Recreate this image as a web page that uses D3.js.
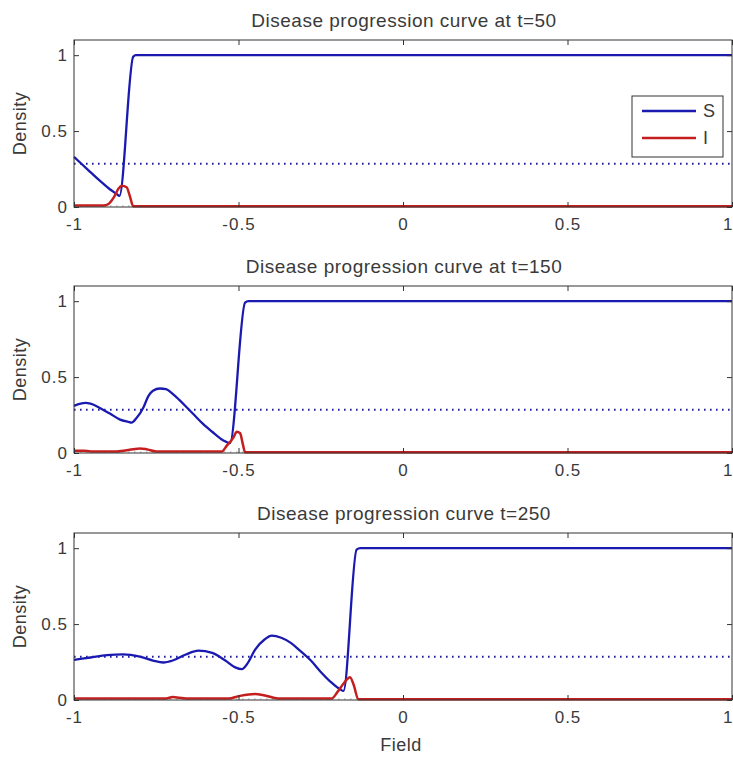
<!DOCTYPE html>
<html>
<head>
<meta charset="utf-8">
<script src="https://cdn.jsdelivr.net/npm/d3@7"></script>
<style>
  body { margin: 0; background: #fff; }
  text { font-family: "Liberation Sans", Arial, sans-serif; fill: #3a3a3a; }
  .tick text { font-size: 17px; letter-spacing: 1px; }
  .tick line { stroke: #333; }
</style>
</head>
<body>
<div id="chart"></div>
<script>
// chart values
var titles = ["Disease progression curve at t=50",
              "Disease progression curve at t=150",
              "Disease progression curve t=250"];
var xTicks = [-1, -0.5, 0, 0.5, 1];
var yTicks = [0, 0.5, 1];
var seriesNames = ["S", "I"];
var threshold = 0.285;

// t=50
var sField50 = [-1, -0.96, -0.92, -0.89, -0.87, -0.862, -0.82, -0.812, 1];
var sDens50  = [0.33, 0.25, 0.17, 0.115, 0.085, 0.073, 0.99, 1.0, 1.0];
var iField50 = [-1, -0.91, -0.895, -0.88, -0.865, -0.855, -0.84, -0.83, -0.82, 1];
var iDens50  = [0.01, 0.01, 0.02, 0.06, 0.12, 0.14, 0.13, 0.07, 0.005, 0.005];

// t=150
var sField150 = [-1, -0.98, -0.965, -0.95, -0.92, -0.891, -0.86, -0.835, -0.825, -0.81, -0.789, -0.774, -0.76, -0.739, -0.72, -0.70, -0.68, -0.657, -0.63, -0.607, -0.58, -0.546, -0.526, -0.48, -0.47, 1];
var sDens150  = [0.31, 0.325, 0.33, 0.325, 0.295, 0.26, 0.22, 0.205, 0.2, 0.23, 0.3, 0.375, 0.41, 0.425, 0.42, 0.39, 0.35, 0.3, 0.24, 0.19, 0.14, 0.083, 0.065, 0.99, 1.0, 1.0];
var iField150 = [-1, -0.97, -0.95, -0.87, -0.85, -0.82, -0.80, -0.78, -0.75, -0.551, -0.535, -0.516, -0.505, -0.495, -0.487, -0.48, 1];
var iDens150  = [0.015, 0.015, 0.01, 0.01, 0.015, 0.025, 0.03, 0.025, 0.01, 0.01, 0.05, 0.1, 0.14, 0.13, 0.06, 0.005, 0.005];

// t=250
var sField250 = [-1, -0.95, -0.90, -0.85, -0.80, -0.76, -0.729, -0.70, -0.66, -0.622, -0.58, -0.54, -0.51, -0.49, -0.47, -0.45, -0.42, -0.399, -0.37, -0.34, -0.313, -0.28, -0.252, -0.22, -0.191, -0.181, -0.141, -0.13, 1];
var sDens250  = [0.265, 0.28, 0.295, 0.3, 0.285, 0.26, 0.247, 0.26, 0.3, 0.325, 0.31, 0.26, 0.215, 0.203, 0.25, 0.33, 0.4, 0.424, 0.41, 0.375, 0.325, 0.26, 0.19, 0.12, 0.07, 0.06, 0.99, 1.0, 1.0];
var iField250 = [-1, -0.72, -0.70, -0.68, -0.66, -0.53, -0.50, -0.45, -0.42, -0.38, -0.217, -0.20, -0.18, -0.161, -0.15, -0.136, 1];
var iDens250  = [0.01, 0.01, 0.02, 0.015, 0.01, 0.01, 0.025, 0.04, 0.03, 0.01, 0.01, 0.05, 0.11, 0.15, 0.1, 0.005, 0.005];

var sFields = [sField50, sField150, sField250],
    sDens   = [sDens50, sDens150, sDens250],
    iFields = [iField50, iField150, iField250],
    iDens   = [iDens50, iDens150, iDens250];

// layout
var width = 733, height = 758;
var left = 74, right = 732;
var panelTops = [40, 286, 533], panelH = 167;
var colors = { S: "#1a1ab0", I: "#c41e1e" };

var svg = d3.select("#chart").append("svg")
    .attr("width", width)
    .attr("height", height);

var x = d3.scaleLinear().domain([-1, 1]).range([left, right]);

var fmt = function(d) { return String(d); };

titles.forEach(function(title, k) {
  var top = panelTops[k], bottom = top + panelH;
  var y = d3.scaleLinear().domain([0, 1.1]).range([bottom, top]);
  var g = svg.append("g");

  // title
  g.append("text")
      .attr("x", (left + right) / 2 + 1)
      .attr("y", top - 13)
      .attr("text-anchor", "middle")
      .style("font-size", "19px")
      .style("letter-spacing", "0.5px")
      .text(title);

  // reference dotted lines
  g.append("line")
      .attr("x1", x(-1)).attr("x2", x(1))
      .attr("y1", y(threshold)).attr("y2", y(threshold))
      .attr("stroke", "#1c1c9c").attr("stroke-width", 1.8)
      .attr("stroke-dasharray", "1.6,4.4");
  g.append("line")
      .attr("x1", x(-1)).attr("x2", x(1))
      .attr("y1", y(0) - 1).attr("y2", y(0) - 1)
      .attr("stroke", "#888").attr("stroke-width", 0.8)
      .attr("stroke-dasharray", "1.5,4.5");

  var line = d3.line()
      .x(function(d) { return x(d[0]); })
      .y(function(d) { return y(d[1]); })
      .curve(d3.curveMonotoneX);

  var sData = d3.zip(sFields[k], sDens[k]);
  var iData = d3.zip(iFields[k], iDens[k]);

  g.append("path")
      .datum(sData)
      .attr("fill", "none")
      .attr("stroke", colors.S)
      .attr("stroke-width", 2.3)
      .attr("stroke-linejoin", "round")
      .attr("d", line);

  g.append("path")
      .datum(iData)
      .attr("fill", "none")
      .attr("stroke", colors.I)
      .attr("stroke-width", 2.5)
      .attr("stroke-linejoin", "round")
      .attr("d", line);

  // axes, MATLAB style ticks inside the box
  g.append("g")
      .attr("transform", "translate(0," + bottom + ")")
      .call(d3.axisBottom(x).tickValues(xTicks).tickSize(-5).tickPadding(11).tickFormat(fmt))
      .call(function(a) {
        a.select(".domain").remove();
        // keep the last label inside the page
        a.selectAll(".tick text").filter(function(d) { return d === 1; })
            .attr("text-anchor", "end").attr("dx", 1);
      });
  g.append("g")
      .attr("transform", "translate(0," + top + ")")
      .call(d3.axisTop(x).tickValues(xTicks).tickSize(-5).tickFormat(""))
      .call(function(a) { a.select(".domain").remove(); });
  g.append("g")
      .attr("transform", "translate(" + left + ",0)")
      .call(d3.axisLeft(y).tickValues(yTicks).tickSize(-5).tickPadding(6).tickFormat(fmt))
      .call(function(a) { a.select(".domain").remove(); });
  g.append("g")
      .attr("transform", "translate(" + right + ",0)")
      .call(d3.axisRight(y).tickValues(yTicks).tickSize(-5).tickFormat(""))
      .call(function(a) { a.select(".domain").remove(); });

  g.selectAll(".tick text").attr("fill", "#3a3a3a");

  // box
  g.append("rect")
      .attr("x", left).attr("y", top)
      .attr("width", right - left).attr("height", panelH)
      .attr("fill", "none").attr("stroke", "#333").attr("stroke-width", 1);

  // y label
  g.append("text")
      .attr("transform", "translate(26," + (top + panelH / 2) + ") rotate(-90)")
      .attr("text-anchor", "middle")
      .style("font-size", "18px")
      .style("letter-spacing", "0.5px")
      .text("Density");

  // legend on first panel
  if (k === 0) {
    var lg = g.append("g");
    lg.append("rect")
        .attr("x", 632).attr("y", 96)
        .attr("width", 91).attr("height", 61)
        .attr("fill", "#fff").attr("stroke", "#333").attr("stroke-width", 1);
    seriesNames.forEach(function(name, j) {
      var ly = 111 + j * 27;
      lg.append("line")
          .attr("x1", 642).attr("x2", 696)
          .attr("y1", ly).attr("y2", ly)
          .attr("stroke", colors[name]).attr("stroke-width", 2.3);
      lg.append("text")
          .attr("x", 703).attr("y", ly)
          .attr("dy", "0.36em")
          .style("font-size", "18px")
          .text(name);
    });
  }
});

// x label
svg.append("text")
    .attr("x", 401)
    .attr("y", 751)
    .attr("text-anchor", "middle")
    .style("font-size", "18px")
    .style("letter-spacing", "0.5px")
    .text("Field");
</script>
</body>
</html>
